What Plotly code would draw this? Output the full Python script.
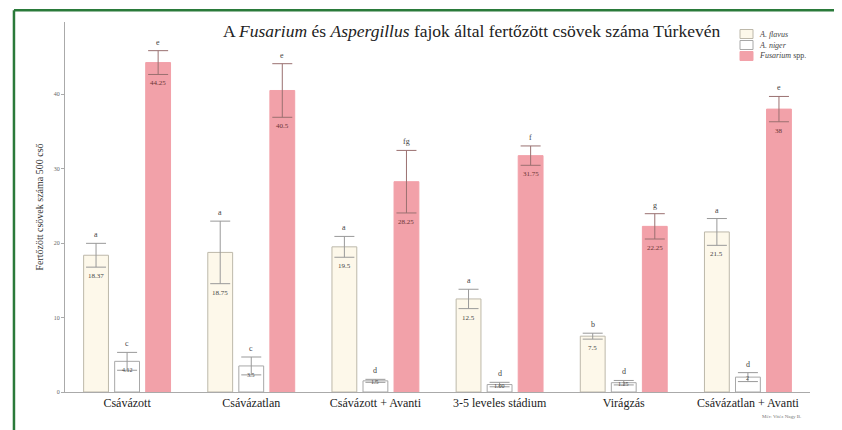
import plotly.graph_objects as go

categories = ["Csávázott", "Csávázatlan", "Csávázott + Avanti", "3-5 leveles stádium", "Virágzás", "Csávázatlan + Avanti"]
series_names = ["<i>A. flavus</i>", "<i>A. niger</i>", "<i>Fusarium</i> spp."]
flavus = [18.37, 18.75, 19.5, 12.5, 7.5, 21.5]
niger = [4.12, 3.5, 1.5, 1.0, 1.25, 2.0]
fusarium = [44.25, 40.5, 28.25, 31.75, 22.25, 38.0]
flavus_err = [1.6, 4.2, 1.4, 1.3, 0.4, 1.8]
niger_err = [1.2, 1.2, 0.2, 0.3, 0.3, 0.6]
fusarium_err = [1.6, 3.6, 4.2, 1.3, 1.7, 1.7]
flavus_letters = ["a", "a", "a", "a", "b", "a"]
niger_letters = ["c", "c", "d", "d", "d", "d"]
fusarium_letters = ["e", "e", "fg", "f", "g", "e"]
flavus_labels = ["18.37", "18.75", "19.5", "12.5", "7.5", "21.5"]
niger_labels = ["4.12", "3.5", "1.5", "1.00", "1.25", "2"]
fusarium_labels = ["44.25", "40.5", "28.25", "31.75", "22.25", "38"]
y_ticks = [0, 10, 20, 30, 40]

FONT = "Liberation Serif, DejaVu Serif, Times New Roman, serif"
fills = ["#fdf8ea", "#ffffff", "#f2a1a9"]
lines = ["#bdb8aa", "#a8a8a8", "#f2a1a9"]
errcol = ["#999999", "#999999", "#9a7070"]

fig = go.Figure()
data = [(flavus, flavus_err, flavus_letters, flavus_labels),
        (niger, niger_err, niger_letters, niger_labels),
        (fusarium, fusarium_err, fusarium_letters, fusarium_labels)]
for i, (vals, errs, letters, labels) in enumerate(data):
    fig.add_trace(go.Bar(
        x=categories, y=vals, name=series_names[i], offsetgroup=str(i),
        marker=dict(color=fills[i], line=dict(color=lines[i], width=1)),
        error_y=dict(type="data", array=errs, visible=True, color=errcol[i], thickness=1, width=10),
        hoverinfo="skip", showlegend=False,
    ))

BARGAP = 0.25
n = 3
slot = 1 - BARGAP
for i, (vals, errs, letters, labels) in enumerate(data):
    off = (i - (n - 1) / 2) * slot / n
    for k, cat in enumerate(categories):
        xpos = k + off
        fig.add_annotation(x=xpos, y=vals[k] + errs[k], text=letters[k], showarrow=False,
                           xref="x", yref="y", yanchor="bottom", yshift=2,
                           font=dict(family=FONT, size=8, color="#444"))
        if i == 1:
            fig.add_annotation(x=xpos, y=vals[k], text=labels[k], showarrow=False,
                               xref="x", yref="y", yanchor="middle",
                               yshift=-9 if vals[k] > 3 else -1,
                               font=dict(family=FONT, size=6, color="#444"))
        else:
            fig.add_annotation(x=xpos, y=vals[k] - errs[k], text=labels[k], showarrow=False,
                               xref="x", yref="y", yanchor="top", yshift=-3,
                               font=dict(family=FONT, size=7, color="#6a3535" if i == 2 else "#444"))

# page body has an 8px margin, so the figure is sized/placed to compensate
fig.update_layout(
    width=834, height=422,
    margin=dict(l=57, r=32, t=14, b=38),
    paper_bgcolor="white", plot_bgcolor="white",
    barmode="group", bargap=BARGAP, bargroupgap=0.2,
    font=dict(family=FONT, color="#333"),
    showlegend=False,
    xaxis=dict(type="category", showline=True, linecolor="#aaaaaa", linewidth=1,
               ticks="", tickfont=dict(family=FONT, size=12, color="#222"),
               showgrid=False, range=[-0.5, 5.5], automargin=False),
    yaxis=dict(range=[0, 49.7], tickvals=y_ticks, ticktext=[str(t) for t in y_ticks],
               showline=True, linecolor="#aaaaaa", linewidth=1, ticks="outside", ticklen=3,
               tickcolor="#aaaaaa", tickfont=dict(family=FONT, size=6, color="#666"),
               showgrid=False, zeroline=False, automargin=False,
               title=dict(text="Fertőzött csövek száma 500 cső", font=dict(family=FONT, size=10, color="#333"),
                          standoff=8)),
)

fig.add_annotation(xref="paper", yref="paper", x=0.545, y=0.975, xanchor="center", yanchor="middle",
                   text="A <i>Fusarium</i> és <i>Aspergillus</i> fajok által fertőzött csövek száma Túrkevén",
                   showarrow=False, font=dict(family=FONT, size=17.5, color="#222"))
fig.add_annotation(xref="paper", yref="paper", x=0.99, y=-0.055, xanchor="right", yanchor="top",
                   text="Mér: Vitéz Nagy B.", showarrow=False, font=dict(family=FONT, size=5, color="#777"))

# manual compact legend
leg_x0 = (740 - 65) / 745.0
for i, name in enumerate(series_names):
    yc = (392 - (34 + i * 11)) / 370.0
    fig.add_shape(type="rect", xref="paper", yref="paper",
                  x0=leg_x0, x1=leg_x0 + 13 / 745.0, y0=yc - 4.5 / 370, y1=yc + 4.5 / 370,
                  fillcolor=fills[i], line=dict(color=lines[i] if i < 2 else fills[i], width=1))
    fig.add_annotation(xref="paper", yref="paper", x=leg_x0 + 17 / 745.0, y=yc, xanchor="left",
                       yanchor="middle", text=name, showarrow=False,
                       font=dict(family=FONT, size=8, color="#444"))

# green frame
fig.add_shape(type="line", xref="paper", yref="paper", x0=-0.0685, x1=1.1, y0=1.032, y1=1.032,
              line=dict(color="#2a7a3a", width=2.5))
fig.add_shape(type="line", xref="paper", yref="paper", x0=-0.0685, x1=-0.0685, y0=1.032, y1=-0.11,
              line=dict(color="#2a7a3a", width=2.5))

fig.write_html("out.html")
